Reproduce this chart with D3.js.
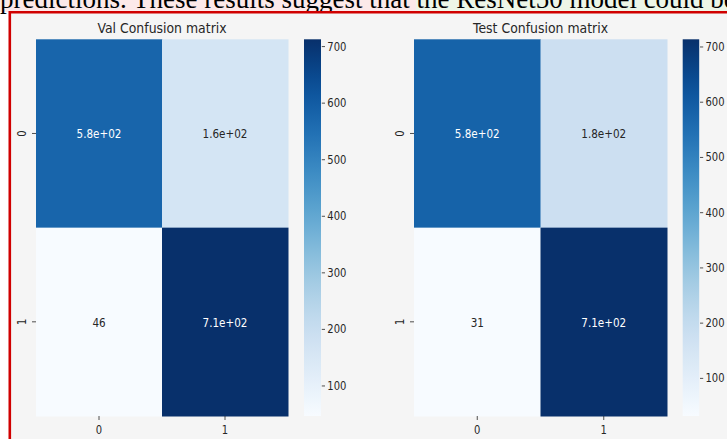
<!DOCTYPE html>
<html>
<head>
<meta charset="utf-8">
<script src="https://cdn.jsdelivr.net/npm/d3@7"></script>
<style>
  html, body { margin: 0; padding: 0; background: #ffffff; }
  svg { display: block; }
</style>
</head>
<body>
<svg id="chart" width="727" height="439"></svg>
<script>
// ---- data ----
const classLabels = ["0", "1"];
const valMatrix = [[578, 162], [46, 712]];
const testMatrix = [[581, 178], [31, 713]];
const colorbarTicks = [100, 200, 300, 400, 500, 600, 700];
const panelTitles = ["Val Confusion matrix", "Test Confusion matrix"];
const captionText = "predictions. These results suggest that the ResNet50 model could be";

// ---- layout ----
const W = 727, H = 439;
const SX = 0.8;             // horizontal squeeze of the sans text
const ink = "#262626";
const fontSans = "'DejaVu Sans', Verdana, sans-serif";

const panels = [
  { title: panelTitles[0], matrix: valMatrix, x0: 36, x1: 288, cbX: 304, cbW: 17 },
  { title: panelTitles[1], matrix: testMatrix, x0: 414, x1: 667, cbX: 682.7, cbW: 16.5 }
];
const yTop = 39.3, yBottom = 416;

const svg = d3.select("#chart");

// caption line running above the figure, with its soft highlight
const hl = svg.append("g");
hl.append("rect").attr("x", 0).attr("y", 0).attr("width", 416).attr("height", 12)
  .attr("fill", "#fbe1e1").attr("opacity", 0.75);
hl.append("rect").attr("x", 416).attr("y", 0).attr("width", W - 416).attr("height", 12)
  .attr("fill", "#e7f3df").attr("opacity", 0.75);
svg.append("text")
  .attr("x", 0).attr("y", 7.5)
  .attr("font-family", "'Liberation Serif', 'Times New Roman', serif")
  .attr("font-size", 27)
  .attr("fill", "#000")
  .text(captionText);

// figure background and red frame (left and top edges)
svg.append("rect").attr("x", 9).attr("y", 12).attr("width", W - 9).attr("height", H - 12)
  .attr("fill", "#f5f5f5");
svg.append("path")
  .attr("d", `M9.8,${H} V12.3 H${W}`)
  .attr("fill", "none").attr("stroke", "#d00000").attr("stroke-width", 2.6);

// matplotlib-style %.2g
function fmt2g(v) {
  if (v === 0) return "0";
  const r = Number(v.toPrecision(2));
  const e = Math.floor(Math.log10(Math.abs(r)));
  if (e < -4 || e >= 2) {
    let [m, ex] = r.toExponential(1).split("e");
    m = m.replace(/\.0$/, "");
    const sign = ex[0] === "-" ? "-" : "+";
    const digits = String(Math.abs(+ex)).padStart(2, "0");
    return m + "e" + sign + digits;
  }
  return String(r);
}

function luminance(c) {
  const rgb = d3.rgb(c);
  const f = v => { v /= 255; return v <= 0.03928 ? v / 12.92 : Math.pow((v + 0.055) / 1.055, 2.4); };
  return 0.2126 * f(rgb.r) + 0.7152 * f(rgb.g) + 0.0722 * f(rgb.b);
}

panels.forEach((p, pi) => {
  const flat = p.matrix.flat();
  const vmin = d3.min(flat), vmax = d3.max(flat);
  const color = d3.scaleSequential(d3.interpolateBlues).domain([vmin, vmax]);

  const x = d3.scaleBand().domain(classLabels).range([p.x0, p.x1]);
  const y = d3.scaleBand().domain(classLabels).range([yTop, yBottom]);

  const g = svg.append("g");

  // title
  g.append("text")
    .attr("transform", `translate(${(p.x0 + p.x1) / 2},33) scale(0.86,1)`)
    .attr("text-anchor", "middle")
    .attr("font-family", fontSans).attr("font-size", 14.5)
    .attr("fill", ink)
    .text(p.title);

  // cells
  const cells = [];
  p.matrix.forEach((row, ri) => row.forEach((v, ci) =>
    cells.push({ r: classLabels[ri], c: classLabels[ci], v })));

  g.selectAll("rect.cell").data(cells).join("rect")
    .attr("class", "cell")
    .attr("x", d => x(d.c)).attr("y", d => y(d.r))
    .attr("width", x.bandwidth() + 0.5).attr("height", y.bandwidth() + 0.5)
    .attr("fill", d => color(d.v));

  g.selectAll("text.annot").data(cells).join("text")
    .attr("class", "annot")
    .attr("transform", d => `translate(${x(d.c) + x.bandwidth() / 2},${y(d.r) + y.bandwidth() / 2}) scale(${SX},1)`)
    .attr("text-anchor", "middle")
    .attr("dy", "0.36em")
    .attr("font-family", fontSans).attr("font-size", 13)
    .attr("fill", d => luminance(color(d.v)) > 0.408 ? ink : "#ffffff")
    .text(d => fmt2g(d.v));

  // x axis
  const ax = g.append("g")
    .attr("transform", `translate(0,${yBottom})`)
    .call(d3.axisBottom(x).tickSize(4).tickPadding(5));
  ax.select(".domain").remove();
  ax.selectAll(".tick line").attr("stroke", ink).attr("stroke-width", 0.8);
  ax.selectAll(".tick text")
    .attr("transform", `scale(${SX},1)`)
    .attr("font-family", fontSans).attr("font-size", 12.5).attr("fill", ink);

  // y axis with vertical labels
  const ay = g.append("g")
    .attr("transform", `translate(${p.x0},0)`)
    .call(d3.axisLeft(y).tickSize(4));
  ay.select(".domain").remove();
  ay.selectAll(".tick line").attr("stroke", ink).attr("stroke-width", 0.8);
  ay.selectAll(".tick text")
    .attr("x", 0).attr("dy", 0)
    .attr("text-anchor", "middle")
    .attr("transform", `translate(-10,0) rotate(-90) scale(${SX},1)`)
    .attr("font-family", fontSans).attr("font-size", 12.5).attr("fill", ink);

  // colorbar
  const cb = d3.scaleLinear().domain([vmin, vmax]).range([yBottom, yTop]);
  const gradId = "cbgrad" + pi;
  const grad = svg.append("defs").append("linearGradient")
    .attr("id", gradId).attr("x1", 0).attr("y1", 1).attr("x2", 0).attr("y2", 0);
  d3.range(0, 1.0001, 0.05).forEach(t => {
    grad.append("stop").attr("offset", t)
      .attr("stop-color", color(vmin + t * (vmax - vmin)));
  });
  g.append("rect")
    .attr("x", p.cbX).attr("y", cb(vmax))
    .attr("width", p.cbW).attr("height", cb(vmin) - cb(vmax))
    .attr("fill", `url(#${gradId})`);

  const ac = g.append("g")
    .attr("transform", `translate(${p.cbX + p.cbW},0)`)
    .call(d3.axisRight(cb).tickValues(colorbarTicks).tickSize(4).tickPadding(3));
  ac.select(".domain").remove();
  ac.selectAll(".tick line").attr("x1", 0.8).attr("stroke", ink).attr("stroke-width", 0.8);
  ac.selectAll(".tick text")
    .attr("x", 6.3 / SX)
    .attr("transform", `scale(${SX},1)`)
    .attr("font-family", fontSans).attr("font-size", 12.5).attr("fill", ink);
});
</script>
</body>
</html>
